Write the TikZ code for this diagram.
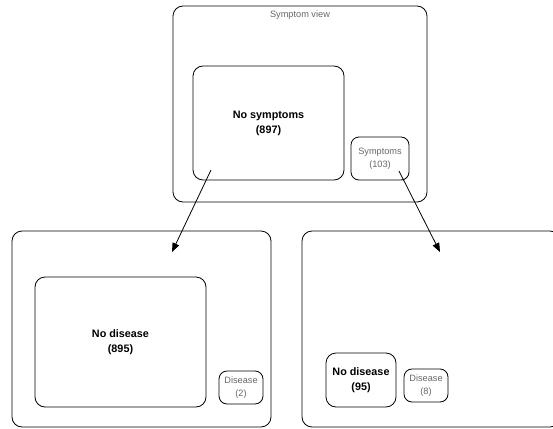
\documentclass[tikz,border=0pt]{standalone}
\usepackage{fontspec}
\setmainfont{Liberation Sans}
\usepackage{tikz}
\usetikzlibrary{arrows.meta, positioning}
\tikzset{
  viewbox/.style={rectangle, rounded corners=10pt, draw=black, line width=0.8pt, inner sep=0pt},
  groupbox/.style={rectangle, rounded corners=10pt, draw=black, line width=0.8pt, align=center, inner sep=2pt, font=\fontsize{10.8}{15}\selectfont\bfseries},
  smallbox/.style={rectangle, rounded corners=8pt, draw=black, line width=0.8pt, align=center, inner sep=2pt, text=black!60, font=\fontsize{9.2}{13}\selectfont},
  flowarr/.style={-{Triangle[length=9pt, width=7pt]}, line width=0.8pt},
}

\begin{document}
\begin{tikzpicture}[x=1pt, y=-1pt]
\useasboundingbox (0,0) rectangle (553,428);
\clip (0,0) rectangle (553,428);
% symptom view
\node[viewbox, minimum width=254pt, minimum height=196pt] (symview) at (300,104) {};
\node[text=black!60, font=\fontsize{9.2}{11}\selectfont] (symtitle) at (300,15) {Symptom view};
\node[groupbox, minimum width=151pt, minimum height=114pt] (nosym) at (268.5,123) {No symptoms\\(897)};
\node[smallbox, minimum width=58pt, minimum height=43pt] (sym) at (380,158.5) {Symptoms\\(103)};
% left: no symptoms
\node[viewbox, minimum width=259pt, minimum height=196pt] (leftview) at (141.5,329) {};
\node[groupbox, minimum width=171pt, minimum height=130pt] (nodisa) at (120.5,342) {No disease\\(895)};
\node[smallbox, minimum width=44pt, minimum height=33pt] (disa) at (241,387.5) {Disease\\(2)};
% right: symptoms
\node[viewbox, minimum width=258pt, minimum height=196pt] (rightview) at (431,329) {};
\node[groupbox, minimum width=70pt, minimum height=54pt] (nodisb) at (361,380) {No disease\\(95)};
\node[smallbox, minimum width=44pt, minimum height=33pt] (disb) at (426,385.5) {Disease\\(8)};
% arrows
\coordinate (nosymout) at (211,170);
\coordinate (leftin) at (172,252);
\coordinate (symout) at (399,171);
\coordinate (rightin) at (440,252);
\draw[flowarr] (nosymout) -- (leftin);
\draw[flowarr] (symout) -- (rightin);
\end{tikzpicture}
\end{document}
